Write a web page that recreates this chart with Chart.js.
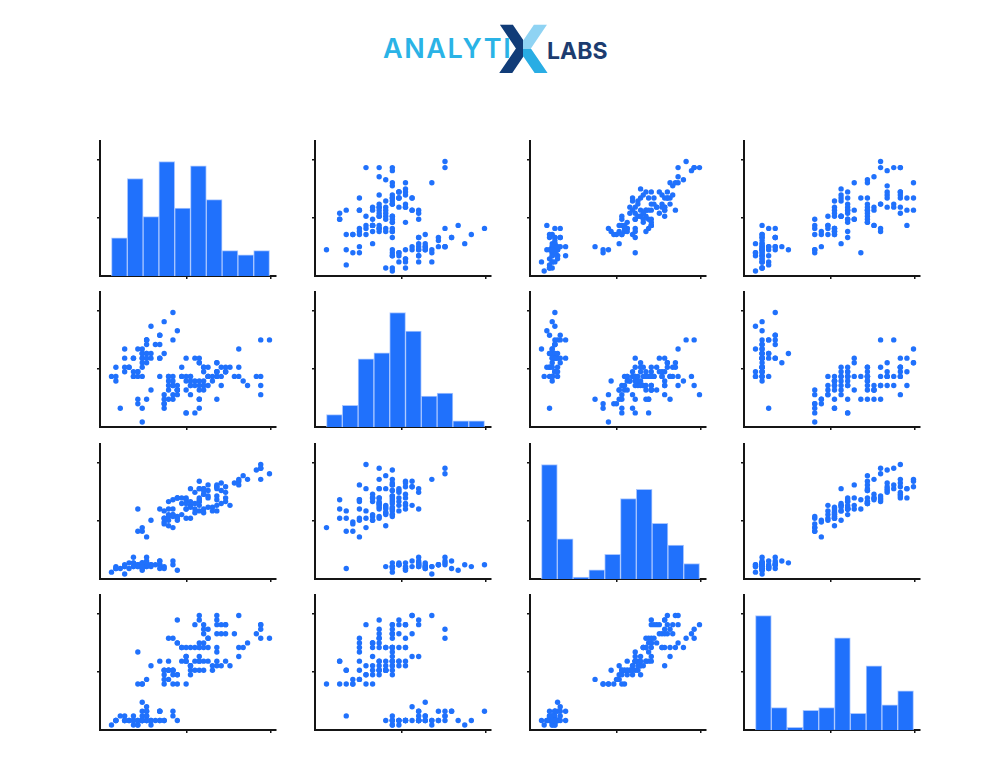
<!DOCTYPE html>
<html>
<head>
<meta charset="utf-8">
<script src="https://cdn.jsdelivr.net/npm/chart.js@4.4.1/dist/chart.umd.min.js"></script>
<style>
    html, body { margin: 0; padding: 0; background: #fff; }
    #page { position: relative; width: 986px; height: 780px; overflow: hidden; }
    #logo { position: absolute; left: 370px; top: 15px; }
    .panel { position: absolute; }
</style>
</head>
<body>
<div id="page">
    <svg id="logo" width="260" height="70" viewBox="0 0 260 70">
        <defs>
            <pattern id="xFill" patternUnits="userSpaceOnUse" x="0" y="0" width="260" height="70">
                <rect x="0" y="0" width="153" height="70" fill="#113c78"/>
                <rect x="153" y="0" width="107" height="34" fill="#8fd3f3"/>
                <rect x="153" y="34" width="107" height="36" fill="#29ade4"/>
            </pattern>
        </defs>
        <text x="13" y="43" font-family="Inter, 'Open Sans', sans-serif" font-weight="600" font-size="27" letter-spacing="1.6" fill="#2ab3e6">ANALYTI</text>
        <text x="128" y="58" font-family="'DejaVu Sans', sans-serif" font-weight="bold" font-size="66" fill="url(#xFill)">X</text>
        <text x="177" y="44" font-family="Inter, 'Open Sans', sans-serif" font-weight="700" font-size="23" fill="#1c3c70">LABS</text>
    </svg>
</div>
<script>
'use strict';

// iris measurements, one array per variable (150 flowers)
const sepalLength = [
    5.1,4.9,4.7,4.6,5.0,5.4,4.6,5.0,4.4,4.9,5.4,4.8,4.8,4.3,5.8,5.7,5.4,5.1,5.7,5.1,5.4,5.1,4.6,5.1,4.8,
    5.0,5.0,5.2,5.2,4.7,4.8,5.4,5.2,5.5,4.9,5.0,5.5,4.9,4.4,5.1,5.0,4.5,4.4,5.0,5.1,4.8,5.1,4.6,5.3,5.0,
    7.0,6.4,6.9,5.5,6.5,5.7,6.3,4.9,6.6,5.2,5.0,5.9,6.0,6.1,5.6,6.7,5.6,5.8,6.2,5.6,5.9,6.1,6.3,6.1,6.4,
    6.6,6.8,6.7,6.0,5.7,5.5,5.5,5.8,6.0,5.4,6.0,6.7,6.3,5.6,5.5,5.5,6.1,5.8,5.0,5.6,5.7,5.7,6.2,5.1,5.7,
    6.3,5.8,7.1,6.3,6.5,7.6,4.9,7.3,6.7,7.2,6.5,6.4,6.8,5.7,5.8,6.4,6.5,7.7,7.7,6.0,6.9,5.6,7.7,6.3,6.7,
    7.2,6.2,6.1,6.4,7.2,7.4,7.9,6.4,6.3,6.1,7.7,6.3,6.4,6.0,6.9,6.7,6.9,5.8,6.8,6.7,6.7,6.3,6.5,6.2,5.9
];
const sepalWidth = [
    3.5,3.0,3.2,3.1,3.6,3.9,3.4,3.4,2.9,3.1,3.7,3.4,3.0,3.0,4.0,4.4,3.9,3.5,3.8,3.8,3.4,3.7,3.6,3.3,3.4,
    3.0,3.4,3.5,3.4,3.2,3.1,3.4,4.1,4.2,3.1,3.2,3.5,3.6,3.0,3.4,3.5,2.3,3.2,3.5,3.8,3.0,3.8,3.2,3.7,3.3,
    3.2,3.2,3.1,2.3,2.8,2.8,3.3,2.4,2.9,2.7,2.0,3.0,2.2,2.9,2.9,3.1,3.0,2.7,2.2,2.5,3.2,2.8,2.5,2.8,2.9,
    3.0,2.8,3.0,2.9,2.6,2.4,2.4,2.7,2.7,3.0,3.4,3.1,2.3,3.0,2.5,2.6,3.0,2.6,2.3,2.7,3.0,2.9,2.9,2.5,2.8,
    3.3,2.7,3.0,2.9,3.0,3.0,2.5,2.9,2.5,3.6,3.2,2.7,3.0,2.5,2.8,3.2,3.0,3.8,2.6,2.2,3.2,2.8,2.8,2.7,3.3,
    3.2,2.8,3.0,2.8,3.0,2.8,3.8,2.8,2.8,2.6,3.0,3.4,3.1,3.0,3.1,3.1,3.1,2.7,3.2,3.3,3.0,2.5,3.0,3.4,3.0
];
const petalLength = [
    1.4,1.4,1.3,1.5,1.4,1.7,1.4,1.5,1.4,1.5,1.5,1.6,1.4,1.1,1.2,1.5,1.3,1.4,1.7,1.5,1.7,1.5,1.0,1.7,1.9,
    1.6,1.6,1.5,1.4,1.6,1.6,1.5,1.5,1.4,1.5,1.2,1.3,1.4,1.3,1.5,1.3,1.3,1.3,1.6,1.9,1.4,1.6,1.4,1.5,1.4,
    4.7,4.5,4.9,4.0,4.6,4.5,4.7,3.3,4.6,3.9,3.5,4.2,4.0,4.7,3.6,4.4,4.5,4.1,4.5,3.9,4.8,4.0,4.9,4.7,4.3,
    4.4,4.8,5.0,4.5,3.5,3.8,3.7,3.9,5.1,4.5,4.5,4.7,4.4,4.1,4.0,4.4,4.6,4.0,3.3,4.2,4.2,4.2,4.3,3.0,4.1,
    6.0,5.1,5.9,5.6,5.8,6.6,4.5,6.3,5.8,6.1,5.1,5.3,5.5,5.0,5.1,5.3,5.5,6.7,6.9,5.0,5.7,4.9,6.7,4.9,5.7,
    6.0,4.8,4.9,5.6,5.8,6.1,6.4,5.6,5.1,5.6,6.1,5.6,5.5,4.8,5.4,5.6,5.1,5.1,5.9,5.7,5.2,5.0,5.2,5.4,5.1
];
const petalWidth = [
    0.2,0.2,0.2,0.2,0.2,0.4,0.3,0.2,0.2,0.1,0.2,0.2,0.1,0.1,0.2,0.4,0.4,0.3,0.3,0.3,0.2,0.4,0.2,0.5,0.2,
    0.2,0.4,0.2,0.2,0.2,0.2,0.4,0.1,0.2,0.2,0.2,0.2,0.1,0.2,0.2,0.3,0.3,0.2,0.6,0.4,0.3,0.2,0.2,0.2,0.2,
    1.4,1.5,1.5,1.3,1.5,1.3,1.6,1.0,1.3,1.4,1.0,1.5,1.0,1.4,1.3,1.4,1.5,1.0,1.5,1.1,1.8,1.3,1.5,1.2,1.3,
    1.4,1.4,1.7,1.5,1.0,1.1,1.0,1.2,1.6,1.5,1.6,1.5,1.3,1.3,1.3,1.2,1.4,1.2,1.0,1.3,1.2,1.3,1.3,1.1,1.3,
    2.5,1.9,2.1,1.8,2.2,2.1,1.7,1.8,1.8,2.5,2.0,1.9,2.1,2.0,2.4,2.3,1.8,2.2,2.3,1.5,2.3,2.0,2.0,1.8,2.1,
    1.8,1.8,1.8,2.1,1.6,1.9,2.0,2.2,1.5,1.4,2.3,2.4,1.8,1.8,2.1,2.4,2.3,1.9,2.3,2.5,2.3,1.9,2.0,2.3,1.8
];

// histogram counts on the diagonal, 10 equal bins between each variable's min and max
const sepalLengthCounts = [9, 23, 14, 27, 16, 26, 18, 6, 5, 6];
const sepalWidthCounts = [4, 7, 22, 24, 37, 31, 10, 11, 2, 2];
const petalLengthCounts = [37, 13, 0, 3, 8, 26, 29, 18, 11, 5];
const petalWidthCounts = [41, 8, 1, 7, 8, 33, 6, 23, 9, 14];

const variables = [sepalLength, sepalWidth, petalLength, petalWidth];
const counts = [sepalLengthCounts, sepalWidthCounts, petalLengthCounts, petalWidthCounts];

// grid layout
const colLefts = [100, 315, 530, 744];
const rowTops = [141, 292, 444, 595];
const PLOT_W = 176;
const PLOT_H = 135;
const AXIS_SPACE = 6;
const PAD = 4;

const BLUE = '#2071fc';
const INK = '#151515';
const X_TICK_FRAC = [0.494, 0.972];
const Y_TICK_FRAC = [0.428, 0.862];

function extent(values) {
    return [Math.min(...values), Math.max(...values)];
}

function xRange(values) {
    const [lo, hi] = extent(values);
    const d = hi - lo;
    return [lo - d * 11.5 / 158, hi + d * 6.5 / 158];
}

function yRange(values) {
    const [lo, hi] = extent(values);
    const d = hi - lo;
    return [lo - d * 5 / 109.5, hi + d * 20.5 / 109.5];
}

function axis(min, max, fracs, horizontal) {
    return {
        type: 'linear',
        min, max,
        offset: false,
        border: { display: true, color: INK, width: 2 },
        grid: { drawOnChartArea: false, drawTicks: true, tickLength: 3, color: INK, lineWidth: 1.5, offset: false },
        ticks: { display: false },
        afterBuildTicks: s => { s.ticks = fracs.map(f => ({ value: min + f * (max - min) })); },
        afterFit: s => { if (horizontal) s.height = AXIS_SPACE; else s.width = AXIS_SPACE; }
    };
}

function histogramConfig(values, binCounts) {
    const [lo, hi] = extent(values);
    const step = (hi - lo) / binCounts.length;
    const [xMin, xMax] = xRange(values);
    const yMax = Math.max(...binCounts) * PLOT_H / (PLOT_H - 20.5);
    return {
        type: 'bar',
        data: {
            datasets: [{
                data: binCounts.map((n, i) => ({ x: lo + (i + 0.5) * step, y: n })),
                backgroundColor: BLUE,
                borderColor: '#a8c6ff',
                borderWidth: 1,
                minBarLength: 2,
                barPercentage: 1,
                categoryPercentage: 1
            }]
        },
        options: baseOptions(axis(xMin, xMax, X_TICK_FRAC, true), axis(0, yMax, Y_TICK_FRAC, false))
    };
}

function scatterConfig(xs, ys) {
    const [xMin, xMax] = xRange(xs);
    const [yMin, yMax] = yRange(ys);
    return {
        type: 'scatter',
        data: {
            datasets: [{
                data: xs.map((x, i) => ({ x, y: ys[i] })),
                backgroundColor: BLUE,
                borderWidth: 0,
                pointRadius: 2.7
            }]
        },
        options: baseOptions(axis(xMin, xMax, X_TICK_FRAC, true), axis(yMin, yMax, Y_TICK_FRAC, false))
    };
}

function baseOptions(x, y) {
    return {
        responsive: false,
        animation: false,
        devicePixelRatio: 1,
        layout: { padding: { top: PAD, right: PAD, left: 0, bottom: 0 } },
        plugins: { legend: { display: false }, tooltip: { enabled: false } },
        scales: { x, y }
    };
}

const page = document.getElementById('page');

rowTops.forEach((top, r) => {
    colLefts.forEach((left, c) => {
        const canvas = document.createElement('canvas');
        canvas.className = 'panel';
        canvas.width = AXIS_SPACE + PLOT_W + PAD;
        canvas.height = PAD + PLOT_H + AXIS_SPACE;
        canvas.style.left = (left - AXIS_SPACE) + 'px';
        canvas.style.top = (top - PAD) + 'px';
        page.appendChild(canvas);

        const config = r === c
            ? histogramConfig(variables[c], counts[c])
            : scatterConfig(variables[c], variables[r]);
        new Chart(canvas.getContext('2d'), config);
    });
});
</script>
</body>
</html>
